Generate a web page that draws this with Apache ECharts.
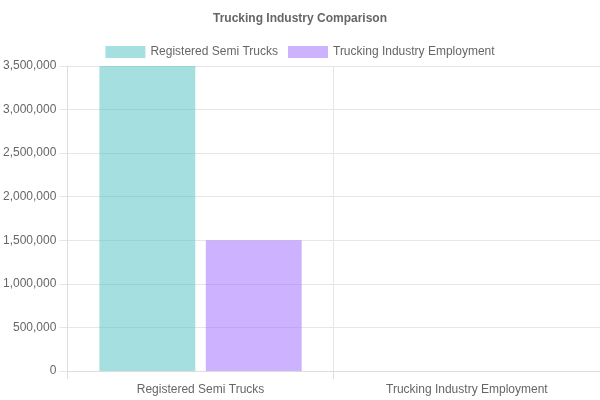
<!DOCTYPE html>
<html><head><meta charset="utf-8">
<script src="https://cdn.jsdelivr.net/npm/echarts@6/dist/echarts.min.js"></script>
<style>html,body{margin:0;padding:0;background:#fff}#c{width:600px;height:400px}</style>
</head><body><div id="c"></div>
<script>
const categories = ["Registered Semi Trucks", "Trucking Industry Employment"];
const semiTrucks = [3500000, null];
const employment = [1500000, null];
const seriesNames = ["Registered Semi Trucks", "Trucking Industry Employment"];
const yTicks = {min: 0, max: 3500000, interval: 500000};

const chart = echarts.init(document.getElementById('c'), null, {renderer: 'canvas'});
const font = 'Liberation Sans, Arial, sans-serif';
chart.setOption({
  animation: false,
  textStyle: {fontFamily: font},
  title: {text: 'Trucking Industry Comparison', left: 'center', top: 8,
    textStyle: {fontSize: 12, fontWeight: 'bold', color: '#666', fontFamily: font}},
  legend: {top: 41, left: 'center', itemWidth: 40, itemHeight: 12, itemGap: 10, icon: 'rect',
    textStyle: {fontSize: 12, color: '#666', fontFamily: font},
    data: seriesNames},
  grid: {left: 67, right: 0, top: 66, bottom: 29, containLabel: false},
  xAxis: {type: 'category', data: categories,
    axisLine: {lineStyle: {color: '#ddd'}},
    axisTick: {show: true, length: 8, lineStyle: {color: '#ddd'}},
    axisLabel: {color: '#666', fontSize: 12, margin: 13, fontFamily: font},
    splitLine: {show: true, lineStyle: {color: '#e6e6e6'}}},
  yAxis: {type: 'value', min: yTicks.min, max: yTicks.max, interval: yTicks.interval,
    axisLine: {show: true, lineStyle: {color: '#ddd'}},
    axisTick: {show: true, length: 8, lineStyle: {color: '#e6e6e6'}},
    axisLabel: {color: '#666', fontSize: 12, margin: 11, fontFamily: font,
      formatter: v => v.toLocaleString('en-US')},
    splitLine: {show: true, lineStyle: {color: '#e6e6e6'}}},
  series: [
    {name: seriesNames[0], type: 'bar', data: semiTrucks, barWidth: '36%', barGap: '11%',
      itemStyle: {color: 'rgba(75,192,192,0.5)'}},
    {name: seriesNames[1], type: 'bar', data: employment, barWidth: '36%', barGap: '11%',
      itemStyle: {color: 'rgba(153,102,255,0.5)'}}
  ]
});
</script></body></html>
